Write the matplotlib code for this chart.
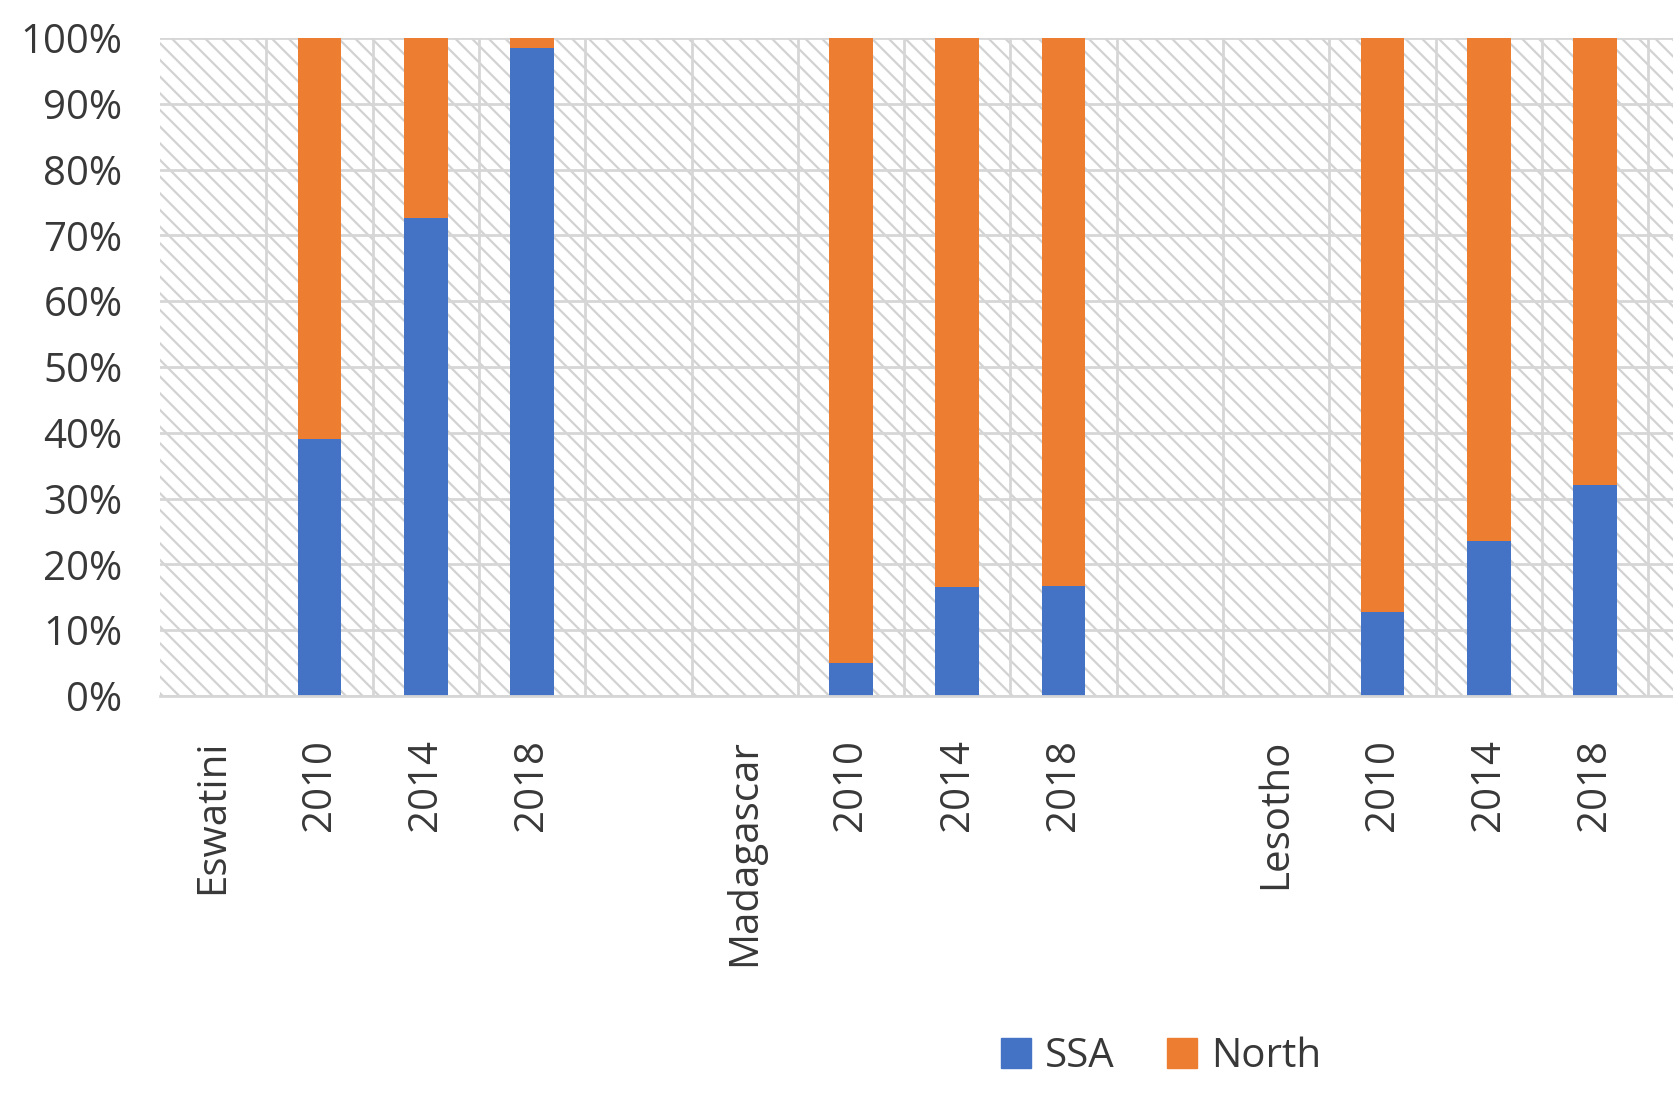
import numpy as np
import matplotlib
matplotlib.use("Agg")
import matplotlib.pyplot as plt
from matplotlib.patches import Rectangle, Patch

# --- data ---
categories = ["Eswatini", "2010", "2014", "2018", "",
              "Madagascar", "2010", "2014", "2018", "",
              "Lesotho", "2010", "2014", "2018", ""]
ssa_share = [np.nan, 39.0, 72.7, 98.5, np.nan,
             np.nan, 5.0, 16.6, 16.7, np.nan,
             np.nan, 12.8, 23.5, 32.1, np.nan]
north_share = [100 - v for v in ssa_share]
series_names = ["SSA", "North"]
y_ticks = list(range(0, 101, 10))

BLUE = "#4472C4"
ORANGE = "#ED7D31"
GRID = "#d6d6d6"
TEXT = "#383838"

plt.rcParams["font.family"] = ["Open Sans", "DejaVu Sans"]
plt.rcParams["hatch.linewidth"] = 1.6
plt.rcParams["hatch.color"] = "#d2d2d2"

W, H = 1673, 1094
fig = plt.figure(figsize=(W / 100, H / 100), dpi=100)

# axes runs past the right edge (the reference is cropped there)
left_px, top_px, bottom_px = 160, 38, 696
slot_px = 106.3
right_px = left_px + slot_px * len(categories)
ax = fig.add_axes([left_px / W, 1 - bottom_px / H,
                   (right_px - left_px) / W, (bottom_px - top_px) / H])

x = np.arange(len(categories))
ax.set_xlim(-0.5, len(categories) - 0.5)
ax.set_ylim(0, 100)

# hatched plot-area background
bg = Rectangle((0, 0), 1, 1, transform=ax.transAxes, facecolor="white",
               edgecolor="#d2d2d2", hatch="\\\\", linewidth=0, zorder=0.1)
ax.add_patch(bg)

bw = 0.41
ax.bar(x, ssa_share, width=bw, color=BLUE, zorder=2, label=series_names[0])
ax.bar(x, north_share, width=bw, bottom=ssa_share, color=ORANGE, zorder=2,
       label=series_names[1])

ax.set_axisbelow(True)
ax.set_yticks(y_ticks)
ax.set_yticklabels([f"{t}%" for t in y_ticks])
ax.set_xticks(x)
ax.set_xticklabels(categories, rotation=90, va="top", ha="center")
ax.set_xticks(x[:-1] + 0.5, minor=True)

ax.grid(axis="y", which="major", color=GRID, linewidth=2.0, zorder=0.5)
ax.grid(axis="x", which="minor", color=GRID, linewidth=2.0, zorder=0.5)

ax.tick_params(axis="both", which="both", length=0)
ax.tick_params(axis="y", labelsize=29, pad=27, colors=TEXT)
ax.tick_params(axis="x", labelsize=29, pad=31, colors=TEXT)

for s in ["top", "right", "left"]:
    ax.spines[s].set_visible(False)
ax.spines["bottom"].set_color(GRID)
ax.spines["bottom"].set_linewidth(2.0)

handles = [Patch(color=BLUE), Patch(color=ORANGE)]
fig.legend(handles, series_names, loc="center", bbox_to_anchor=(0.694, 0.034),
           ncol=2, frameon=False, fontsize=29, handlelength=0.75,
           handleheight=0.75, handletextpad=0.35, columnspacing=1.3,
           labelcolor=TEXT)

fig.savefig("out.png", dpi=100, facecolor="white")
